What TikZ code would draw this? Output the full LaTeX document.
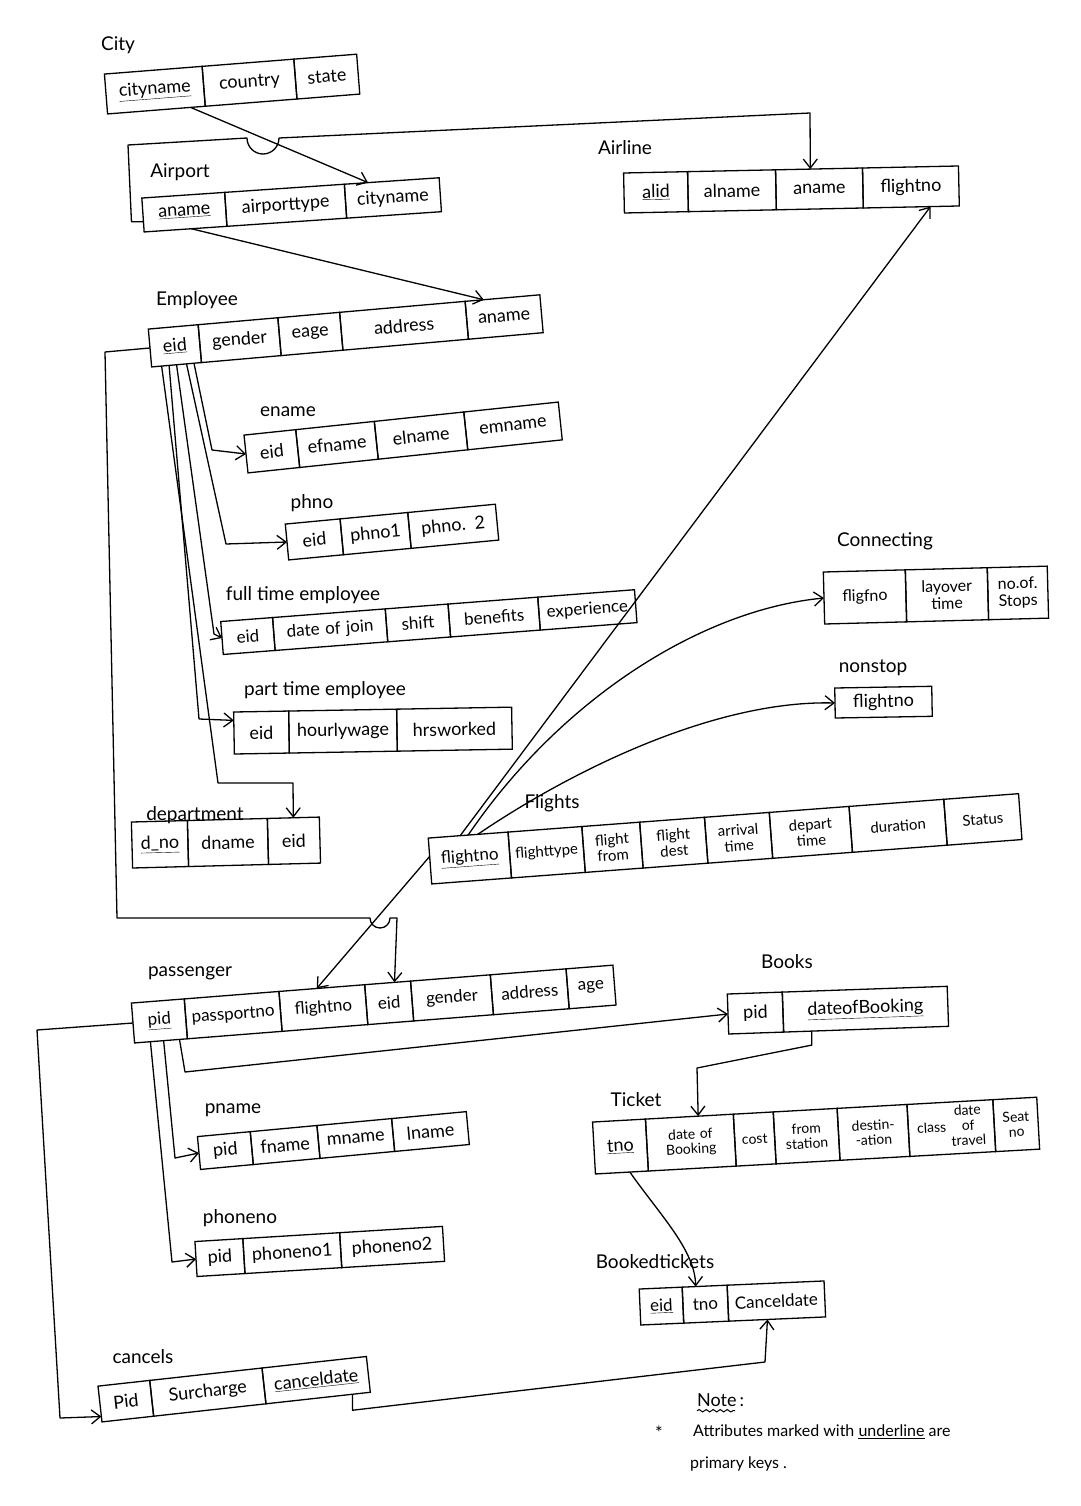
\documentclass[tikz,border=0pt]{standalone}
\usepackage{fontspec}
\setmainfont{Lato}
\usetikzlibrary{arrows.meta,calc,decorations.pathmorphing}
\tikzset{
 cell/.style={draw, line width=1.3pt, inner xsep=0pt, inner ysep=1pt, outer sep=0pt, align=center, transform shape, anchor=west, font=\fontsize{18}{19}\selectfont},
 ttl/.style={font=\fontsize{19}{22}\selectfont, inner sep=0pt},
 lnk/.style={line width=1.3pt, line join=round},
 arr/.style={lnk, -{Straight Barb[length=9pt,width=14pt,line width=1.3pt]}},
}
\newcommand\cel[4]{\node[cell,text width=#2pt] (#1) at (#3) {#4};}
\begin{document}
\begin{tikzpicture}[x=1pt,y=-1pt]
\useasboundingbox[fill=white] (0,0) rectangle (1080,1506);

% ---------- titles ----------
\node[ttl] (tCity) at (118,45) {City};
\node[ttl] (tAirport) at (180,172) {Airport};
\node[ttl] (tAirline) at (625,148) {Airline};
\node[ttl] (tEmp) at (197,300) {Employee};
\node[ttl] (tEname) at (288,412) {ename};
\node[ttl] (tPhno) at (312,503) {phno};
\node[ttl] (tFte) at (303,595) {full time employee};
\node[ttl] (tPte) at (325,690) {part time employee};
\node[ttl] (tDept) at (195,815) {department};
\node[ttl] (tFl) at (552,803) {Flights};
\node[ttl] (tConn) at (885,541) {Connecting};
\node[ttl] (tNon) at (873,668) {nonstop};
\node[ttl] (tPass) at (190,973) {passenger};
\node[ttl] (tBooks) at (787,962) {Books};
\node[ttl] (tTicket) at (636,1100) {Ticket};
\node[ttl] (tPname) at (233,1110) {pname};
\node[ttl] (tPhone) at (240,1218) {phoneno};
\node[ttl] (tBt) at (655,1262) {Bookedtickets};
\node[ttl] (tCanc) at (143,1357) {cancels};

% ---------- tables ----------
\begin{scope}[shift={(106,94)}, rotate=4.5, cell/.append style={minimum height=40pt}]
\cel{cy1}{98}{0,0}{\underline{cityname}}
\cel{cy2}{92}{cy1.east}{country}
\cel{cy3}{63}{cy2.east}{state}
\end{scope}

\begin{scope}[shift={(143,215)}, rotate=3.9, cell/.append style={minimum height=34pt}]
\cel{ap1}{83}{0,0}{\underline{aname}}
\cel{ap2}{120}{ap1.east}{airporttype}
\cel{ap3}{95}{ap2.east}{cityname}
\end{scope}

\begin{scope}[shift={(624,193)}, rotate=1.2, cell/.append style={minimum height=40pt}]
\cel{al1}{64}{0,0}{\underline{alid}}
\cel{al2}{88}{al1.east}{alname}
\cel{al3}{87}{al2.east}{aname}
\cel{al4}{96}{al3.east}{flightno}
\end{scope}

\begin{scope}[shift={(150,348)}, rotate=5, cell/.append style={minimum height=38pt}]
\cel{em1}{50}{0,0}{\underline{eid}}
\cel{em2}{80}{em1.east}{gender}
\cel{em3}{62}{em2.east}{eage}
\cel{em4}{126}{em3.east}{address}
\cel{em5}{75}{em4.east}{aname}
\end{scope}

\begin{scope}[shift={(246,454)}, rotate=6, cell/.append style={minimum height=38pt}]
\cel{en1}{52}{0,0}{eid}
\cel{en2}{79}{en1.east}{efname}
\cel{en3}{90}{en2.east}{elname}
\cel{en4}{95}{en3.east}{emname}
\end{scope}

\begin{scope}[shift={(287,542)}, rotate=5.4, cell/.append style={minimum height=36pt}]
\cel{ph1}{55}{0,0}{eid}
\cel{ph2}{68}{ph1.east}{phno1}
\cel{ph3}{88}{ph2.east}{phno. 2}
\end{scope}

\begin{scope}[shift={(222,638)}, rotate=4.4, cell/.append style={minimum height=33pt, font=\fontsize{17}{18}\selectfont}]
\cel{ft1}{52}{0,0}{eid}
\cel{ft2}{113}{ft1.east}{date of join}
\cel{ft3}{63}{ft2.east}{shift}
\cel{ft4}{90}{ft3.east}{benefits}
\cel{ft5}{97}{ft4.east}{experience}
\end{scope}

\begin{scope}[shift={(234,733)}, rotate=1, cell/.append style={minimum height=42pt}]
\cel{pt1}{55}{0,0}{eid}
\cel{pt2}{108}{pt1.east}{hourlywage}
\cel{pt3}{115}{pt2.east}{hrsworked}
\end{scope}

\begin{scope}[shift={(132,845)}, rotate=1.5, cell/.append style={minimum height=46pt}]
\cel{dp1}{56}{0,0}{\underline{d\_no}}
\cel{dp2}{80}{dp1.east}{dname}
\cel{dp3}{52}{dp2.east}{eid}
\end{scope}

\begin{scope}[shift={(430,861)}, rotate=4.3, cell/.append style={minimum height=46pt, font=\fontsize{15}{16}\selectfont}]
\cel{fl1}{80}{0,0}{\fontsize{17}{18}\selectfont\underline{flightno}}
\cel{fl2}{74}{fl1.east}{flighttype}
\cel{fl3}{58}{fl2.east}{flight\\from}
\cel{fl4}{65}{fl3.east}{flight\\dest}
\cel{fl5}{65}{fl4.east}{arrival\\time}
\cel{fl6}{80}{fl5.east}{depart\\time}
\cel{fl7}{95}{fl6.east}{duration}
\cel{fl8}{75}{fl7.east}{Status}
\end{scope}

\begin{scope}[shift={(824,598)}, rotate=1.5, cell/.append style={minimum height=52pt, font=\fontsize{16}{17}\selectfont}]
\cel{cn1}{82}{0,0}{fligfno}
\cel{cn2}{82}{cn1.east}{layover\\time}
\cel{cn3}{60}{cn2.east}{no.of.\\Stops}
\end{scope}

\begin{scope}[shift={(835,703)}, rotate=1, cell/.append style={minimum height=30pt}]
\cel{ns1}{97}{0,0}{flightno}
\end{scope}

\begin{scope}[shift={(133,1023)}, rotate=4.5, cell/.append style={minimum height=40pt, font=\fontsize{17}{18}\selectfont}]
\cel{ps1}{53}{0,0}{\underline{pid}}
\cel{ps2}{95}{ps1.east}{passportno}
\cel{ps3}{86}{ps2.east}{flightno}
\cel{ps4}{46}{ps3.east}{eid}
\cel{ps5}{80}{ps4.east}{gender}
\cel{ps6}{76}{ps5.east}{address}
\cel{ps7}{47}{ps6.east}{age}
\end{scope}

\begin{scope}[shift={(728,1014)}, rotate=2, cell/.append style={minimum height=40pt}]
\cel{bk1}{55}{0,0}{pid}
\cel{bk2}{165}{bk1.east}{\underline{dateofBooking}}
\end{scope}

\begin{scope}[shift={(594,1148)}, rotate=3.2, cell/.append style={minimum height=52pt, font=\fontsize{14}{15}\selectfont}]
\cel{tk1}{53}{0,0}{\fontsize{18}{19}\selectfont\underline{tno}}
\cel{tk2}{88}{tk1.east}{date of\\Booking}
\cel{tk3}{40}{tk2.east}{cost}
\cel{tk4}{64}{tk3.east}{from\\station}
\cel{tk5}{70}{tk4.east}{destin-\\-ation}
\cel{tk6}{86}{tk5.east}{class\ \begin{tabular}{@{}c@{}}date\\of\\travel\end{tabular}}
\cel{tk7}{44}{tk6.east}{Seat\\no}
\end{scope}

\begin{scope}[shift={(199,1153)}, rotate=5.3, cell/.append style={minimum height=33pt}]
\cel{pn1}{53}{0,0}{pid}
\cel{pn2}{67}{pn1.east}{fname}
\cel{pn3}{75}{pn2.east}{mname}
\cel{pn4}{75}{pn3.east}{lname}
\end{scope}

\begin{scope}[shift={(196,1259)}, rotate=3.5, cell/.append style={minimum height=35pt}]
\cel{pp1}{48}{0,0}{pid}
\cel{pp2}{97}{pp1.east}{phoneno1}
\cel{pp3}{103}{pp2.east}{phoneno2}
\end{scope}

\begin{scope}[shift={(640,1307)}, rotate=2.5, cell/.append style={minimum height=36pt, font=\fontsize{17}{18}\selectfont}]
\cel{bt1}{43}{0,0}{\underline{eid}}
\cel{bt2}{45}{bt1.east}{tno}
\cel{bt3}{97}{bt2.east}{Canceldate}
\end{scope}

\begin{scope}[shift={(100,1404)}, rotate=6.3, cell/.append style={minimum height=36pt}]
\cel{cc1}{52}{0,0}{Pid}
\cel{cc2}{113}{cc1.east}{Surcharge}
\cel{cc3}{105}{cc2.east}{\underline{canceldate}}
\end{scope}

% ---------- connectors ----------
% City -> Airport
\draw[arr] ($(cy1.south west)!0.85!(cy1.south east)$) -- ($(ap3.north west)!0.25!(ap3.north east)$);
% Airport -> Airline (with hop)
\draw[arr] ($(ap1.south west)!0.3!(ap1.north west)$) -- ++(-12,0) -- (128,145) -- (247,138)
   arc[start angle=180, end angle=0, radius=16] -- (810,113) -- ($(al3.north west)!0.4!(al3.north east)$);
% Airport -> Employee
\draw[arr] ($(ap1.south west)!0.57!(ap1.south east)$) -- ($(em5.north west)!0.25!(em5.north east)$);

% Employee eid -> sub tables
\draw[arr] ($(em1.south west)!0.85!(em1.south east)$) -- (212,450) -- (en1.west);
\draw[arr] ($(em1.south west)!0.7!(em1.south east)$) -- (226,544) -- (ph1.west);
\draw[arr] ($(em1.south west)!0.5!(em1.south east)$) -- (214,634) -- (ft1.west);
\draw[arr] ($(em1.south west)!0.35!(em1.south east)$) -- (199,719) -- ($(pt1.north west)!0.2!(pt1.south west)$);
\draw[arr] ($(em1.south west)!0.2!(em1.south east)$) -- (218,783) -- (293,783) -- (dp3.north);
% Employee eid -> passenger eid (outer loop with hop)
\draw[arr] (em1.west) -- (105,352) -- (117,918) -- (370,918)
   arc[start angle=180, end angle=0, radius=10] -- (397,918) -- ($(ps4.north west)!0.65!(ps4.north east)$);

% Flights flightno
\draw[arr] ($(fl1.north west)!0.4!(fl1.north east)$) -- ($(al4.south west)!0.7!(al4.south east)$);
\draw[arr] ($(fl1.north west)!0.5!(fl1.north east)$) .. controls (560,700) and (700,610) .. (cn1.west);
\draw[arr] ($(fl1.north west)!0.62!(fl1.north east)$) .. controls (580,765) and (720,700) .. (ns1.west);
\draw[arr] ($(fl1.north west)!0.4!(fl1.south west)$) -- ($(ps3.north west)!0.44!(ps3.north east)$);

% passenger pid
\draw[arr] ($(ps1.south west)!0.3!(ps1.south east)$) -- (172,1262) -- (pp1.west);
\draw[arr] ($(ps1.south west)!0.55!(ps1.south east)$) -- (175,1158) -- (pn1.west);
\draw[arr] ($(ps1.south west)!0.85!(ps1.south east)$) -- (185,1072) -- (bk1.west);
\draw[arr] (ps1.west) -- (37,1030) -- (60,1418) -- ($(cc1.north west)!0.85!(cc1.south west)$);

% Books -> Ticket
\draw[arr] ($(bk2.south west)!0.17!(bk2.south east)$) -- ++(0,14) -- (697,1068) -- ($(tk2.north west)!0.6!(tk2.north east)$);
% Ticket -> Bookedtickets
\draw[arr] ($(tk1.south west)!0.65!(tk1.south east)$) .. controls (660,1215) and (695,1250) .. ($(bt2.north west)!0.3!(bt2.north east)$);
% cancels -> Bookedtickets
\draw[arr] ($(cc3.south west)!0.83!(cc3.south east)$) -- ++(0,16) -- (765,1362) -- ($(bt3.south west)!0.4!(bt3.south east)$);

% ---------- note ----------
\node[anchor=west, inner sep=0pt, font=\fontsize{18}{20}\selectfont] (note) at (697,1400) {Note\,:};
\draw[line width=1pt, decorate, decoration={snake, amplitude=1.2pt, segment length=7pt}]
   ([yshift=-4pt]note.south west) -- ++(38,0);
\node[anchor=west, inner sep=0pt, font=\fontsize{18}{20}\selectfont] (star) at (655,1433) {*};
\node[anchor=west, inner sep=0pt, font=\fontsize{16}{20}\selectfont] (attr) at (693,1432) {Attributes marked with \underline{underline} are};
\node[anchor=west, inner sep=0pt, font=\fontsize{16}{20}\selectfont] (pk) at (690,1464) {primary keys .};
\end{tikzpicture}
\end{document}
